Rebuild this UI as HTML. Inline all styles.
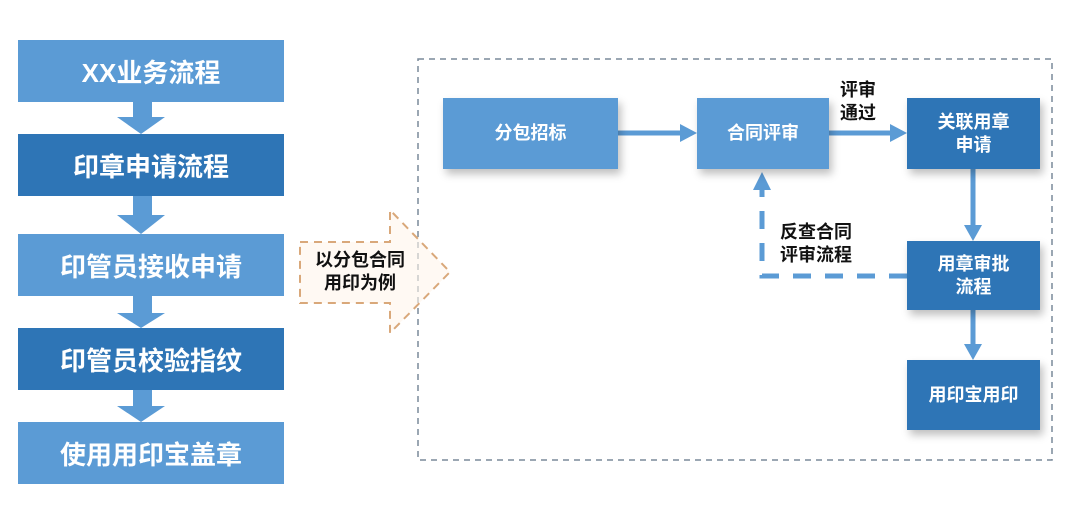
<!DOCTYPE html>
<html><head><meta charset="utf-8"><style>
body{margin:0;width:1080px;height:513px;background:#fff;position:relative;overflow:hidden;font-family:"Liberation Sans","Noto Sans CJK SC",sans-serif;font-weight:bold}
.b{position:absolute;color:#fff;display:flex;align-items:center;justify-content:center;text-align:center}
.l{left:18px;width:266px;height:62px;font-size:26px}
.lt{background:#5b9bd5}.dk{background:#2e75b6}
.r{font-size:18px;line-height:23px;box-shadow:3px 5px 8px rgba(0,0,0,.25)}
.t{position:absolute;color:#111;font-size:18px;line-height:23px;text-align:center}
</style></head><body>
<div class="b l lt" style="top:40px">XX业务流程</div>
<div class="b l dk" style="top:134px">印章申请流程</div>
<div class="b l lt" style="top:234px">印管员接收申请</div>
<div class="b l dk" style="top:328px">印管员校验指纹</div>
<div class="b l lt" style="top:422px">使用用印宝盖章</div>
<svg width="1080" height="513" style="position:absolute;left:0;top:0">
<g fill="#5b9bd5">
<polygon points="133,101 152,101 152,117 165,117 141,134 117,117 133,117"/>
<polygon points="133,196 152,196 152,215 165,215 141,234 117,215 133,215"/>
<polygon points="133,296 152,296 152,313 165,313 141,328 117,313 133,313"/>
<polygon points="133,390 152,390 152,406 165,406 141,422 117,406 133,406"/>
</g>
<rect x="418" y="59" width="634" height="401" fill="none" stroke="#7a8a9a" stroke-width="1.5" stroke-dasharray="6,5"/>
<polygon points="300,242 390,242 390,210 450,272 390,333 390,303 300,303" fill="rgba(255,245,235,0.6)" stroke="#d9a87a" stroke-width="2" stroke-dasharray="8,6"/>
<g stroke="#5b9bd5" stroke-width="5" fill="#5b9bd5">
<line x1="618" y1="133" x2="682" y2="133"/><polygon points="680,124 697,133 680,142" stroke="none"/>
<line x1="829" y1="133" x2="892" y2="133"/><polygon points="890,124 907,133 890,142" stroke="none"/>
<line x1="973" y1="169" x2="973" y2="227"/><polygon points="964,225 973,241 982,225" stroke="none"/>
<line x1="973" y1="310" x2="973" y2="346"/><polygon points="964,344 973,360 982,344" stroke="none"/>
<polyline points="907,276 762,276 762,190" fill="none" stroke-dasharray="18,14"/>
<polygon points="753,190 762,172 771,190" stroke="none"/>
</g>
</svg>
<div class="t" style="left:300px;width:120px;top:249px">以分包合同<br>用印为例</div>
<div class="b r lt" style="left:443px;top:98px;width:175px;height:71px">分包招标</div>
<div class="b r lt" style="left:697px;top:98px;width:132px;height:71px">合同评审</div>
<div class="b r dk" style="left:907px;top:98px;width:133px;height:71px">关联用章<br>申请</div>
<div class="b r dk" style="left:907px;top:241px;width:133px;height:69px">用章审批<br>流程</div>
<div class="b r dk" style="left:907px;top:360px;width:133px;height:70px">用印宝用印</div>
<div class="t" style="left:840px;top:79px">评审<br>通过</div>
<div class="t" style="left:780px;top:221px">反查合同<br>评审流程</div>
</body></html>
